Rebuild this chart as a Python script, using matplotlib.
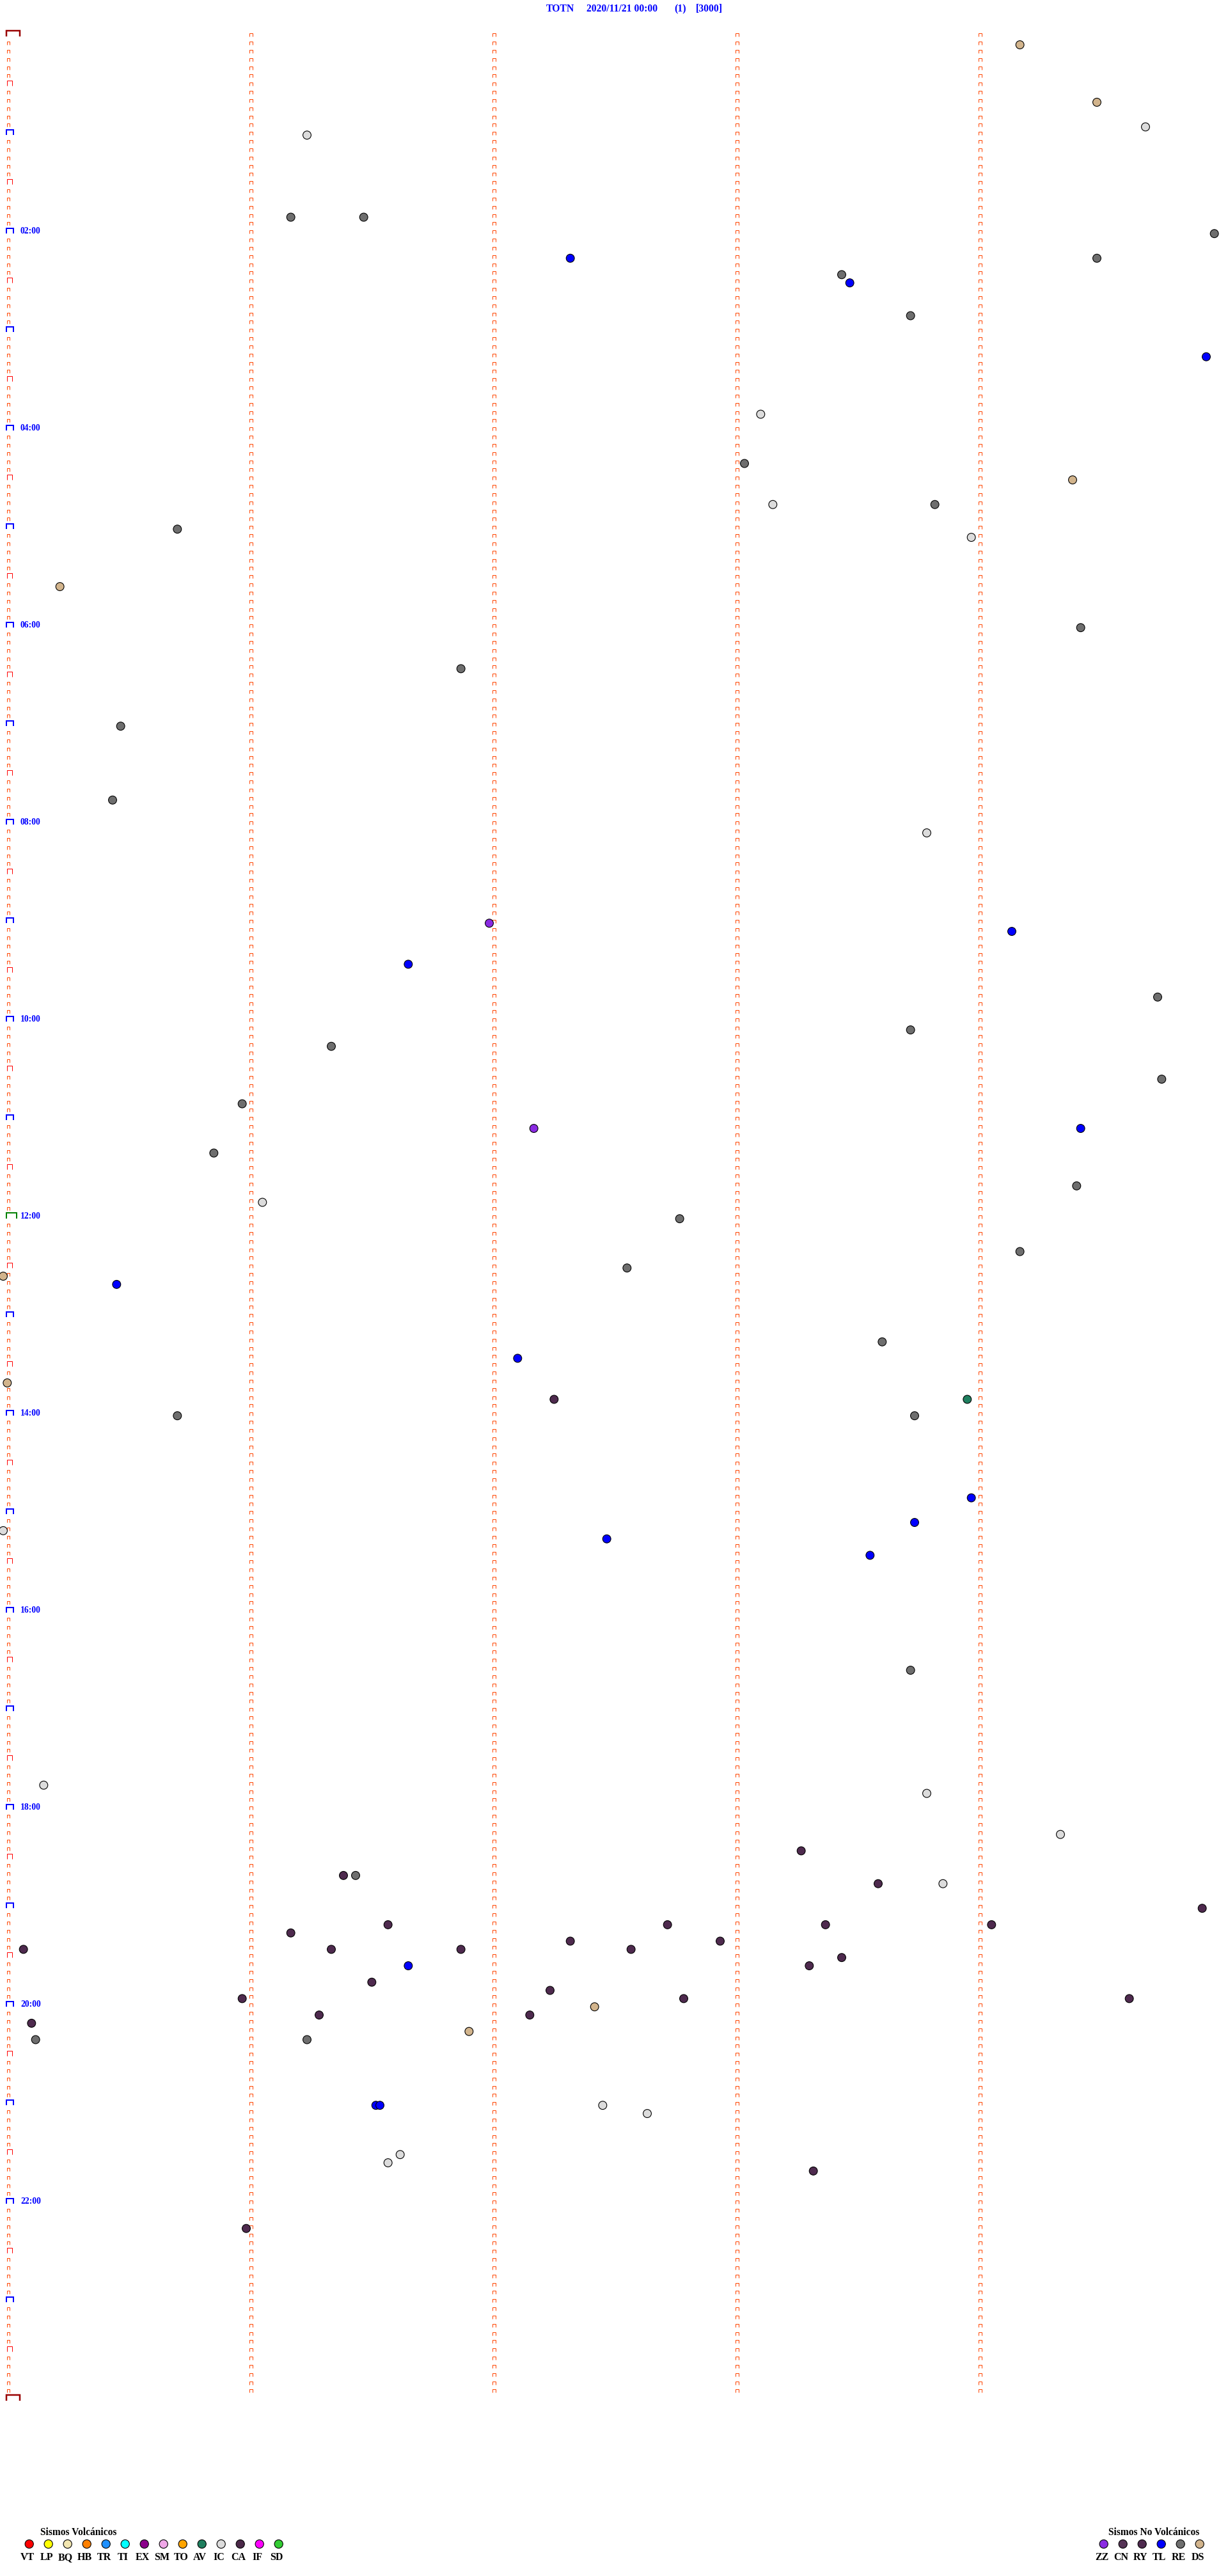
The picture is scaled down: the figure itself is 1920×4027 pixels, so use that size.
import matplotlib
matplotlib.use("Agg")
import matplotlib.pyplot as plt
from matplotlib.collections import LineCollection

# station / header
station = "TOTN"
day_label = "2020/11/21 00:00"
header_extra = ["(1)", "[3000]"]

# legend codes and colours
volc_codes = ["VT", "LP", "BQ", "HB", "TR", "TI", "EX", "SM", "TO", "AV", "IC", "CA", "IF", "SD"]
volc_colors = ["#FF0000", "#FFFF00", "#F2E6B0", "#FF8000", "#1E90FF", "#00FFFF", "#8B008B",
               "#F0A8E8", "#FFA500", "#1F7F5F", "#DCDCDC", "#4A2848", "#FF00FF", "#33CC33"]
novolc_codes = ["ZZ", "CN", "RY", "TL", "RE", "DS"]
novolc_colors = ["#8A2BE2", "#553355", "#4E2A4E", "#0000FF", "#6E6E6E", "#D2B48C"]

# events of the day (time, type)
ev_times = ["00:09:11", "00:44:30", "00:59:42", "01:01:15", "01:51:11", "01:51:29", "02:04:59",
            "02:17:20", "02:19:30", "02:28:27", "02:33:29", "02:53:44", "03:19:57", "03:53:07",
            "04:23:03", "04:34:24", "04:48:10", "04:48:50", "05:00:43", "05:08:59", "05:35:14",
            "06:04:26", "06:26:53", "07:00:29", "07:45:27", "08:08:48", "09:02:00", "09:09:09",
            "09:26:40", "09:49:45", "10:08:44", "10:16:21", "10:39:46", "10:50:59", "11:07:11",
            "11:09:26", "11:20:52", "11:44:25", "11:51:04", "12:02:47", "12:24:11", "12:32:34",
            "12:35:00", "12:40:28", "13:18:37", "13:27:07", "13:40:01", "13:52:16", "13:53:58",
            "14:00:43", "14:03:45", "14:53:59", "15:08:45", "15:10:00", "15:17:29", "15:28:34",
            "16:38:44", "17:45:10", "17:53:48", "18:19:21", "18:28:17", "18:41:24", "18:41:27",
            "18:48:36", "18:48:52", "19:04:56", "19:11:35", "19:12:44", "19:13:23", "19:14:04",
            "19:16:11", "19:22:20", "19:22:57", "19:25:05", "19:26:21", "19:26:53", "19:27:35",
            "19:33:27", "19:36:40", "19:38:19", "19:46:31", "19:52:15", "19:55:59", "19:57:48",
            "19:59:38", "20:02:26", "20:06:18", "20:07:10", "20:10:07", "20:16:55", "20:20:08",
            "20:21:15", "21:01:32", "21:01:33", "21:02:28", "21:07:39", "21:31:38", "21:36:35",
            "21:43:20", "22:16:00"]
ev_types = ["DS", "DS", "IC", "IC", "RE", "RE", "RE",
            "TL", "RE", "RE", "TL", "RE", "TL", "IC",
            "RE", "DS", "IC", "RE", "RE", "IC", "DS",
            "RE", "RE", "RE", "RE", "IC", "ZZ", "TL",
            "TL", "RE", "RE", "RE", "RE", "RE", "ZZ",
            "TL", "RE", "RE", "IC", "RE", "RE", "RE",
            "DS", "TL", "RE", "TL", "DS", "RY", "AV",
            "RE", "RE", "TL", "TL", "IC", "TL", "TL",
            "RE", "IC", "IC", "IC", "RY", "RY", "RE",
            "RY", "IC", "RY", "RY", "RY", "RY", "RY",
            "RY", "RY", "RY", "RY", "RY", "RY", "RY",
            "RY", "TL", "RY", "RY", "RY", "RY", "RY",
            "RY", "DS", "RY", "RY", "RY", "DS", "RE",
            "RE", "TL", "TL", "IC", "IC", "IC", "IC",
            "RY", "RY"]

W, H = 1920, 4027
ROW_SEC = 300          # one line = 5 minutes
N_ROWS = 288
PXS = 1900 / 300       # pixels per second along a line
PXR = 3696 / 288       # pixels per line
X0, Y0 = 5, 57.2       # pixel of t=0, baseline of first line

colors = dict(zip(volc_codes + novolc_codes, volc_colors + novolc_colors))

fig = plt.figure(figsize=(W / 100, H / 100), dpi=100)
ax = fig.add_axes([0, 0, 1, 1])
ax.set_xlim(-X0 / PXS, (W - X0) / PXS)
ax.set_ylim((H - Y0) / PXR, -Y0 / PXR)
ax.axis("off")

serif = ["Liberation Serif", "DejaVu Serif"]


def brackets(rows, minute, off, w, h, lw, color):
    segs = []
    for r in rows:
        x0 = minute * 60 + off / PXS
        x1 = x0 + w / PXS
        y1 = r - h / PXR
        segs.append([(x0, r), (x0, y1), (x1, y1), (x1, r)])
    ax.add_collection(LineCollection(segs, colors=color, linewidths=lw * 0.72,
                                     capstyle="butt", joinstyle="miter", zorder=1))


# minute markers on each line
small0 = [r for r in range(1, N_ROWS) if r % 6 != 0]
half = [r for r in range(N_ROWS) if r % 12 == 6]
hours = [r for r in range(12, N_ROWS, 12) if r != 144]
brackets(small0, 0, 5.5, 5, 5, 1, "#FF4500")
brackets(half, 0, 5.5, 8, 8, 1, "#FF0000")
brackets(hours, 0, 5, 11, 8, 2, "#0000FF")
brackets([144], 0, 5, 16, 9, 2, "#008000")
brackets([0, N_ROWS], 0, 5, 21, 9, 2.5, "#990000")
for m in range(1, 5):
    brackets(range(N_ROWS), m, 5.5, 5, 5, 1, "#FF4500")

# hour labels
for h in range(2, 24, 2):
    ax.text(27 / PXS, h * 12, "%02d:00" % h, color="#0000FF", fontsize=9.8,
            fontweight="bold", family=serif, va="baseline", ha="left")

# events
ex, ey, ec = [], [], []
for t, k in zip(ev_times, ev_types):
    hh, mm, ss = [int(v) for v in t.split(":")]
    sec = hh * 3600 + mm * 60 + ss
    ex.append(sec % ROW_SEC)
    ey.append(sec // ROW_SEC)
    ec.append(colors[k])
ax.scatter(ex, ey, s=85, c=ec, edgecolors="black", linewidths=0.8, zorder=3)

# overlay in pixel units for header and legend
lax = fig.add_axes([0, 0, 1, 1])
lax.set_xlim(0, W)
lax.set_ylim(H, 0)
lax.axis("off")
lax.patch.set_alpha(0)

hdr = [(854, station), (917, day_label), (1054, header_extra[0]), (1088, header_extra[1])]
for x, s in hdr:
    lax.text(x, 18, s, color="#0000FF", fontsize=11.3, fontweight="bold",
             family=serif, va="baseline", ha="left")


def legend(x_title, x_first, title, codes, cols):
    lax.text(x_title, 3963, title, color="black", fontsize=11.2, fontweight="bold",
             family=serif, va="baseline", ha="left")
    xs = [x_first + 30 * i for i in range(len(codes))]
    lax.scatter(xs, [3977] * len(xs), s=90, c=cols, edgecolors="black",
                linewidths=0.8, zorder=3)
    for x, c in zip(xs, codes):
        lax.text(x - 3, 4002, c, color="black", fontsize=11.5, fontweight="bold",
                 family=serif, va="baseline", ha="center")


legend(63, 45.7, "Sismos Volcánicos", volc_codes, volc_colors)
legend(1733, 1725.7, "Sismos No Volcánicos", novolc_codes, novolc_colors)

fig.savefig("out.png", dpi=100)
